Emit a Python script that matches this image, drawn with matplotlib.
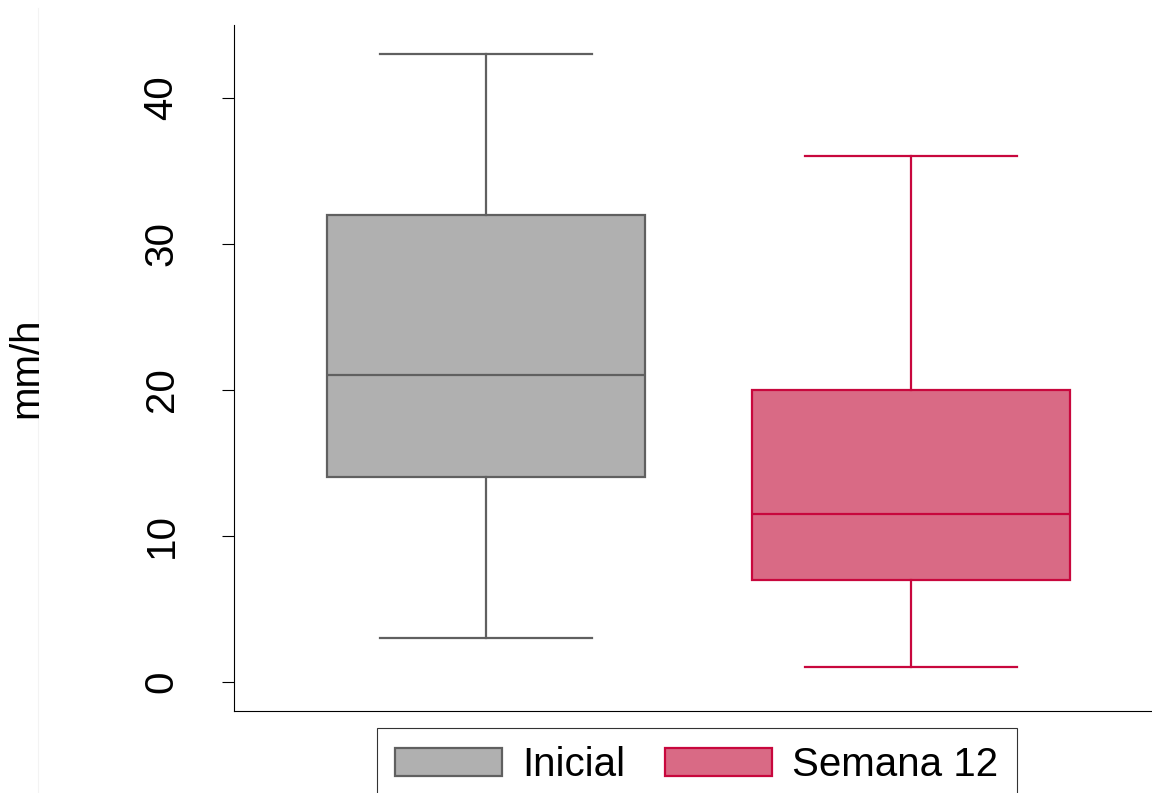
import matplotlib.pyplot as plt
from matplotlib.patches import Patch
from matplotlib.lines import Line2D

plt.rcParams['font.family'] = ['Liberation Sans', 'DejaVu Sans']

groups = ['Inicial', 'Semana 12']
whislo = [3, 1]
q1 = [14, 7]
med = [21, 11.5]
q3 = [32, 20]
whishi = [43, 36]

fills = ['#b0b0b0', '#d96a85']
edges = ['#606060', '#c8073d']

fig = plt.figure(figsize=(11.52, 7.93), dpi=100)
ax = fig.add_axes([234 / 1152, 1 - 711 / 793, 1 - 234 / 1152, (711 - 25) / 793])

stats = []
for i, g in enumerate(groups):
    stats.append({'label': g, 'whislo': whislo[i], 'q1': q1[i], 'med': med[i],
                  'q3': q3[i], 'whishi': whishi[i], 'fliers': []})

for i, s in enumerate(stats):
    c = edges[i]
    ax.bxp([s], positions=[i + 1], widths=0.748, patch_artist=True,
           showfliers=False,
           boxprops=dict(facecolor=fills[i], edgecolor=c, linewidth=1.6),
           medianprops=dict(color=c, linewidth=1.6),
           whiskerprops=dict(color=c, linewidth=1.6),
           capprops=dict(color=c, linewidth=1.6),
           capwidths=0.5)

ax.set_xlim(0.407, 2.567)
ax.set_ylim(-2, 45)
ax.set_xticks([])
ax.set_yticks([0, 10, 20, 30, 40])
ax.tick_params(axis='y', length=8.5, width=0.8, labelsize=29, pad=30)
for t in ax.get_yticklabels():
    t.set_rotation(90)
    t.set_va('center')
ax.spines['top'].set_visible(False)
ax.spines['right'].set_visible(False)
ax.spines['left'].set_linewidth(0.8)
ax.spines['bottom'].set_linewidth(0.8)
ax.set_ylabel('mm/h', fontsize=29)
ax.yaxis.set_label_coords(-0.2055, 0.5)

# faint border line of the graph region, kept behind everything
fig.add_artist(Line2D([38 / 1152, 38 / 1152], [0, 1 - 8 / 793],
                      transform=fig.transFigure, color='#f3f3f3', lw=0.8, zorder=-1))

handles = [Patch(facecolor=fills[i], edgecolor=edges[i], linewidth=1.6, label=g)
           for i, g in enumerate(groups)]
leg = fig.legend(handles=handles, loc='upper left', bbox_to_anchor=(377 / 1152, 1 - 728 / 793),
                 ncol=2, fontsize=29, frameon=True, fancybox=False,
                 handlelength=2.65, handleheight=0.72, handletextpad=0.5,
                 columnspacing=1.0, borderpad=0.45, borderaxespad=0)
leg.get_frame().set_edgecolor('black')
leg.get_frame().set_linewidth(0.8)

fig.savefig('out.png', dpi=100)
